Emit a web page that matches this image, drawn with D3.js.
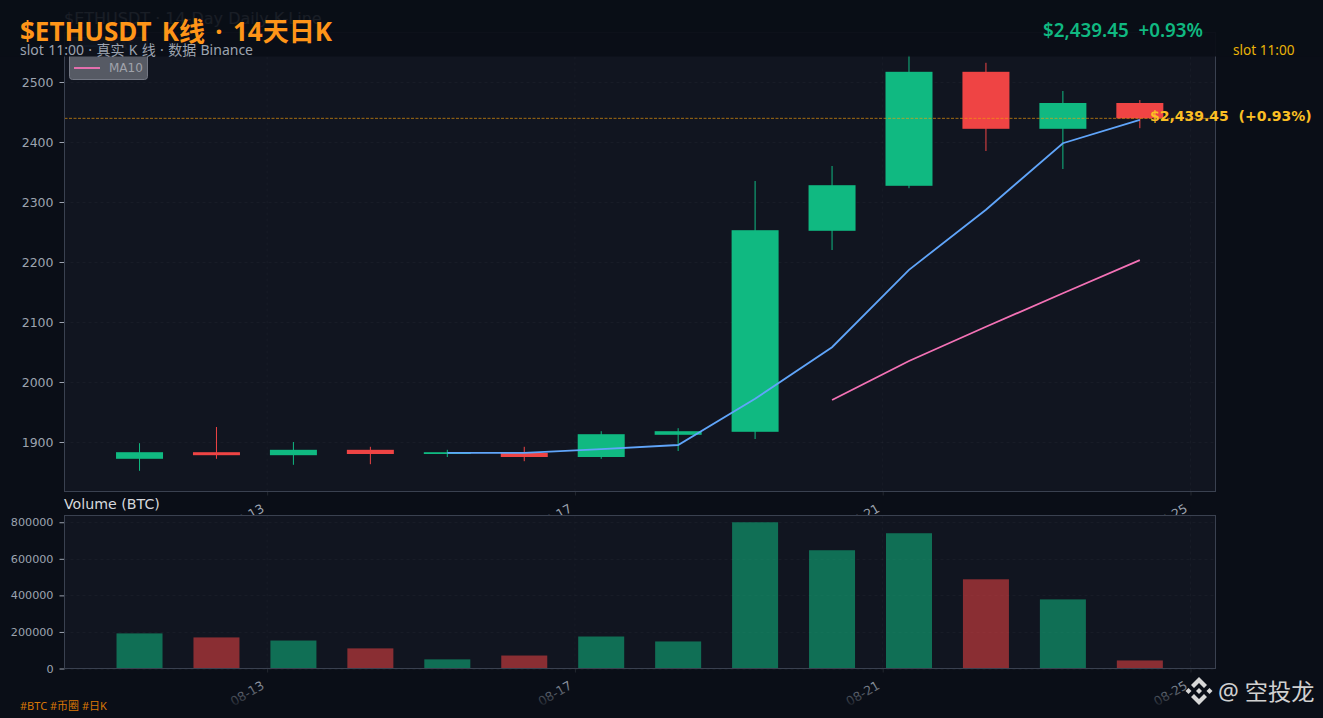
<!DOCTYPE html>
<html>
<head>
<meta charset="utf-8">
<script src="https://cdn.jsdelivr.net/npm/d3@7"></script>
<style>
  html, body { margin: 0; padding: 0; background: #0a0e17; overflow: hidden; }
  svg { display: block; }
  text { font-family: "DejaVu Sans"; }
  .cjk { font-family: "Noto Sans", "Noto Sans CJK SC"; }
</style>
</head>
<body>
<svg id="chart" width="1323" height="718"></svg>
<script>
// candles
var dates = ["2025-08-11", "2025-08-12", "2025-08-13", "2025-08-14", "2025-08-15", "2025-08-16", "2025-08-17",
             "2025-08-18", "2025-08-19", "2025-08-20", "2025-08-21", "2025-08-22", "2025-08-23", "2025-08-24"];
var opens  = [1872, 1883, 1878, 1887, 1880, 1882, 1875, 1912, 1917, 2252, 2327, 2517, 2422, 2465];
var closes = [1883, 1878, 1887, 1880, 1883, 1875, 1913, 1918, 2253, 2328, 2517, 2422, 2465, 2439.45];
var highs  = [1898, 1925, 1900, 1892, 1887, 1892, 1918, 1923, 2335, 2360, 2545, 2532, 2485, 2470];
var lows   = [1852, 1872, 1862, 1863, 1875, 1868, 1872, 1885, 1905, 2220, 2323, 2385, 2355, 2423];
var volumes = [192000, 170000, 153000, 110000, 50000, 71000, 175000, 148000, 800000, 647000, 740000, 488000, 378000, 44000];
var ma5  = [null, null, null, null, 1882, 1882, 1888, 1895, 1972, 2058, 2187, 2287, 2398, 2437];
var ma10 = [null, null, null, null, null, null, null, null, null, 1970, 2035, 2092, 2148, 2203];

var lastPrice = 2439.45;
var priceTicks = [1900, 2000, 2100, 2200, 2300, 2400, 2500];
var volumeTicks = [0, 200000, 400000, 600000, 800000];
var dateTicks = ["2025-08-13", "2025-08-17", "2025-08-21", "2025-08-25"];

var UP = "#10b981", DOWN = "#ef4444";
var parseDay = d3.utcParse("%Y-%m-%d");
var fmt = d3.utcFormat("%m-%d");

var svg = d3.select("#chart");
var left = 64.5, right = 1215.5;
var top1 = 32.5, bottom1 = 491.5, top2 = 515.5, bottom2 = 668.5;

// candles sit at about 08:00 of their day
var candleTime = dates.map(function(d) { return d3.utcMinute.offset(parseDay(d), 492); });
var x = d3.scaleUtc()
  .domain([d3.utcMinute.offset(parseDay("2025-08-13"), -3792), d3.utcMinute.offset(parseDay("2025-08-13"), 17748)])
  .range([left, right]);
var y = d3.scaleLinear().domain([1817.5, 2582.5]).range([bottom1, top1]);
var yVol = d3.scaleLinear().domain([0, 837000]).range([bottom2, top2]);
var bodyW = 47, barW = 46;

svg.append("rect").attr("width", 1323).attr("height", 718).attr("fill", "#0a0e17");

function panel(top, bottom) {
  return svg.append("rect").attr("x", left).attr("y", top)
    .attr("width", right - left).attr("height", bottom - top).attr("fill", "#111520");
}

function grid(g, scale, ticks, top, bottom) {
  g.selectAll(".gy").data(ticks).enter().append("line")
    .attr("x1", left).attr("x2", right)
    .attr("y1", function(d) { return Math.round(scale(d)) + 0.5; })
    .attr("y2", function(d) { return Math.round(scale(d)) + 0.5; })
    .attr("stroke", "rgba(255,255,255,0.03)").attr("stroke-dasharray", "3,3");
  g.selectAll(".gx").data(dateTicks).enter().append("line")
    .attr("x1", function(d) { return x(parseDay(d)); })
    .attr("x2", function(d) { return x(parseDay(d)); })
    .attr("y1", top).attr("y2", bottom)
    .attr("stroke", "rgba(255,255,255,0.03)").attr("stroke-dasharray", "3,3");
}

function axes(top, bottom, scale, ticks, fontSize) {
  var gy = svg.append("g").attr("transform", "translate(" + left + ",0)")
    .call(d3.axisLeft(scale).tickValues(ticks).tickSize(5).tickPadding(6).tickFormat(d3.format("d")));
  gy.select(".domain").remove();
  gy.selectAll("line").attr("stroke", "#9ca3af");
  gy.selectAll("text").attr("fill", "#9ca3af").style("font-size", fontSize + "px").style("font-family", "DejaVu Sans");

  var gx = svg.append("g").attr("transform", "translate(0," + bottom + ")")
    .call(d3.axisBottom(x).tickValues(dateTicks.map(parseDay)).tickSize(4).tickFormat(fmt));
  gx.select(".domain").remove();
  gx.selectAll("line").attr("stroke", "#23272f");
  gx.selectAll("text").attr("fill", "#9ca3af").attr("text-anchor", "end")
    .attr("y", 0).attr("dy", 0)
    .attr("transform", "translate(-2.5,19.5) rotate(-30)")
    .style("font-size", "12.5px").style("font-family", "DejaVu Sans");

  svg.append("rect").attr("x", left).attr("y", top)
    .attr("width", right - left).attr("height", bottom - top)
    .attr("fill", "none").attr("stroke", "#3a4150").attr("stroke-width", 1);
}

// price panel
panel(top1, bottom1);
var main = svg.append("g");
grid(main, y, priceTicks, top1, bottom1);

var candles = main.selectAll(".candle").data(d3.range(dates.length)).enter().append("g");
candles.append("line")
  .attr("x1", function(i) { return x(candleTime[i]); })
  .attr("x2", function(i) { return x(candleTime[i]); })
  .attr("y1", function(i) { return y(highs[i]); })
  .attr("y2", function(i) { return y(lows[i]); })
  .attr("stroke", function(i) { return closes[i] >= opens[i] ? UP : DOWN; })
  .attr("stroke-width", 1);
candles.append("rect")
  .attr("x", function(i) { return x(candleTime[i]) - bodyW / 2; })
  .attr("width", bodyW)
  .attr("y", function(i) { return y(Math.max(opens[i], closes[i])); })
  .attr("height", function(i) { return Math.abs(y(opens[i]) - y(closes[i])); })
  .attr("fill", function(i) { return closes[i] >= opens[i] ? UP : DOWN; });

var line = function(vals) {
  return d3.line()
    .defined(function(i) { return vals[i] !== null; })
    .x(function(i) { return x(candleTime[i]); })
    .y(function(i) { return y(vals[i]); })(d3.range(dates.length));
};
main.append("path").attr("d", line(ma5)).attr("fill", "none").attr("stroke", "#60a5fa").attr("stroke-width", 1.8);
main.append("path").attr("d", line(ma10)).attr("fill", "none").attr("stroke", "#f472b6").attr("stroke-width", 1.8);

main.append("line").attr("x1", left).attr("x2", right)
  .attr("y1", y(lastPrice)).attr("y2", y(lastPrice))
  .attr("stroke", "#f59e0b").attr("stroke-opacity", 0.8).attr("stroke-dasharray", "3,1.5").attr("stroke-width", 0.8);

axes(top1, bottom1, y, priceTicks, 12.5);

// legend, mostly under the header band
var legend = svg.append("g");
legend.append("rect").attr("x", 69.5).attr("y", 37.5).attr("width", 78).attr("height", 42).attr("rx", 3)
  .attr("fill", "#565a64").attr("stroke", "#747884");
legend.append("line").attr("x1", 74).attr("x2", 100).attr("y1", 46).attr("y2", 46).attr("stroke", "#60a5fa").attr("stroke-width", 1.8);
legend.append("text").attr("x", 109).attr("y", 50).attr("fill", "#a0a3ab").style("font-size", "12px").text("MA5");
legend.append("line").attr("x1", 74).attr("x2", 100).attr("y1", 68).attr("y2", 68).attr("stroke", "#f472b6").attr("stroke-width", 1.8);
legend.append("text").attr("x", 109).attr("y", 72).attr("fill", "#a0a3ab").style("font-size", "12px").text("MA10");

svg.append("text").attr("x", 64).attr("y", 24).attr("fill", "#e5e7eb").style("font-size", "16px")
  .text("$ETHUSDT · 14-Day Daily K-Line");

// volume panel
panel(top2, bottom2);
var vol = svg.append("g");
grid(vol, yVol, volumeTicks, top2, bottom2);
vol.selectAll("rect").data(d3.range(dates.length)).enter().append("rect")
  .attr("x", function(i) { return x(candleTime[i]) - barW / 2; })
  .attr("width", barW)
  .attr("y", function(i) { return yVol(volumes[i]); })
  .attr("height", function(i) { return yVol(0) - yVol(volumes[i]); })
  .attr("fill", function(i) { return closes[i] >= opens[i] ? UP : DOWN; })
  .attr("fill-opacity", 0.55);
axes(top2, bottom2, yVol, volumeTicks, 11.2);

svg.append("text").attr("x", 64).attr("y", 509).attr("fill", "#d6d8dc").style("font-size", "14.2px").text("Volume (BTC)");

// header band and bottom fade on top of the plots
var defs = svg.append("defs");
var fade = defs.append("linearGradient").attr("id", "fadeBottom").attr("x1", 0).attr("x2", 0).attr("y1", 0).attr("y2", 1);
fade.append("stop").attr("offset", "0%").attr("stop-color", "#0a0e17").attr("stop-opacity", 0);
fade.append("stop").attr("offset", "100%").attr("stop-color", "#0a0e17").attr("stop-opacity", 0.9);
svg.append("rect").attr("x", 0).attr("y", 0).attr("width", 1323).attr("height", 56.5).attr("fill", "#0a0e17").attr("fill-opacity", 0.93);
svg.append("rect").attr("x", 0).attr("y", 680).attr("width", 1323).attr("height", 26).attr("fill", "url(#fadeBottom)");
svg.append("rect").attr("x", 0).attr("y", 706).attr("width", 1323).attr("height", 12).attr("fill", "#0a0e17").attr("fill-opacity", 0.9);

svg.append("text").attr("class", "cjk").attr("x", 20).attr("y", 41).attr("fill", "#ff9518")
  .style("font-size", "26px").style("font-weight", 700).style("word-spacing", "3.5px").text("$ETHUSDT K线 · 14天日K");
svg.append("text").attr("class", "cjk").attr("x", 20).attr("y", 55).attr("fill", "#9ca3af")
  .style("font-size", "14px").style("word-spacing", "0.7px").text("slot 11:00 · 真实 K 线 · 数据 Binance");
svg.append("text").attr("class", "cjk").attr("x", 1043).attr("y", 37).attr("fill", UP)
  .style("font-size", "18.8px").style("font-weight", 600).attr("xml:space", "preserve").text("$2,439.45  +0.93%");
svg.append("text").attr("class", "cjk").attr("x", 1233).attr("y", 55).attr("fill", "#eab308")
  .style("font-size", "13.6px").text("slot 11:00");
svg.append("text").attr("x", 1150).attr("y", y(lastPrice) + 3).attr("fill", "#fbbf24")
  .style("font-size", "14px").style("font-weight", 700).attr("xml:space", "preserve").text("$2,439.45  (+0.93%)");
svg.append("text").attr("class", "cjk").attr("x", 20).attr("y", 710).attr("fill", "#d97706")
  .style("font-size", "11px").text("#BTC #币圈 #日K");

// watermark
var logo = svg.append("g").attr("transform", "translate(1199,691)").attr("fill", "#d8d8d8");
logo.append("path").attr("d", "M0,-14L8,-6L5,-3L0,-8L-5,-3L-8,-6Z");
logo.append("path").attr("d", "M0,14L8,6L5,3L0,8L-5,3L-8,6Z");
[[0, 0, 3], [-10.5, 0, 3], [10.5, 0, 3]].forEach(function(d) {
  logo.append("path").attr("d", "M" + d[0] + "," + (d[1] - d[2]) + "L" + (d[0] + d[2]) + "," + d[1] + "L" + d[0] + "," + (d[1] + d[2]) + "L" + (d[0] - d[2]) + "," + d[1] + "Z");
});
svg.append("text").attr("class", "cjk").attr("x", 1218).attr("y", 700).attr("fill", "#d0d0d0")
  .style("font-size", "23.2px").text("@ 空投龙");
</script>
</body>
</html>
